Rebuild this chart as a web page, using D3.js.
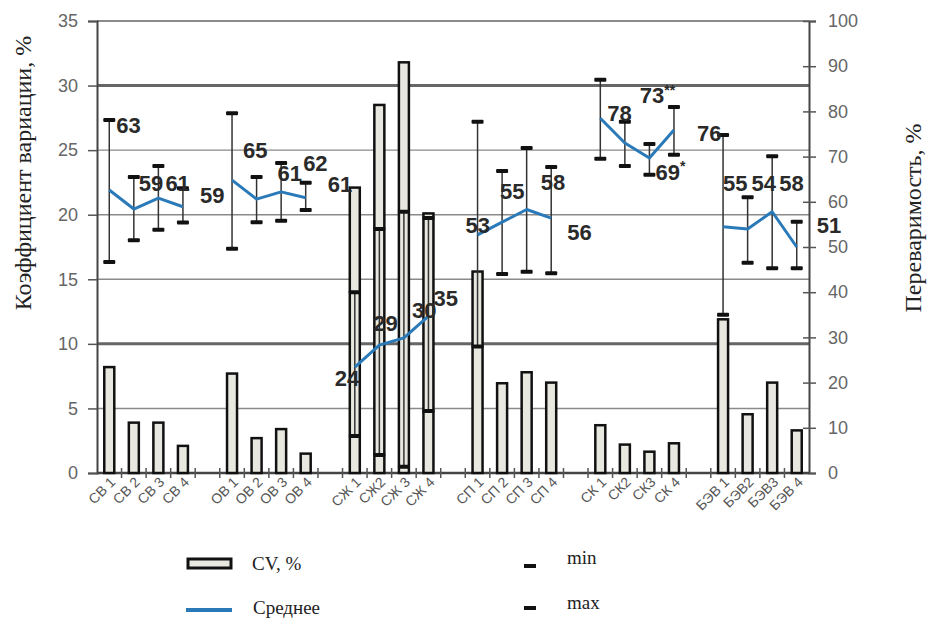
<!DOCTYPE html>
<html>
<head>
<meta charset="utf-8">
<script src="https://cdn.jsdelivr.net/npm/d3@7"></script>
<style>
    body { margin: 0; background: #fff; }
    svg { display: block; }
</style>
</head>
<body>
<svg id="chart"></svg>
<script>
// Group names and x categories (a gap slot between groups)
const groups = ['СВ', 'ОВ', 'СЖ', 'СП', 'СК', 'БЭВ'];
const categories = [
    'СВ 1', 'СВ 2', 'СВ 3', 'СВ 4',
    'ОВ 1', 'ОВ 2', 'ОВ 3', 'ОВ 4',
    'СЖ 1', 'СЖ2', 'СЖ 3', 'СЖ 4',
    'СП 1', 'СП 2', 'СП 3', 'СП 4',
    'СК 1', 'СК2', 'СК3', 'СК 4',
    'БЭВ 1', 'БЭВ2', 'БЭВ3', 'БЭВ 4'
];

// CV, % (left axis)
const cvValues = [8.2, 3.9, 3.9, 2.1, 7.7, 2.7, 3.4, 1.5, 22.1, 28.5, 31.8, 20.1,
    15.6, 6.95, 7.8, 7.0, 3.7, 2.2, 1.65, 2.3, 11.9, 4.55, 7.0, 3.3];

// Переваримость, % (right axis): mean, min, max
const meanValues = [62.6, 58.4, 60.8, 58.9, 64.8, 60.6, 62.2, 60.9, 23.4, 28.3, 29.9, 34.7,
    52.7, 55.5, 58.3, 56.4, 78.5, 73, 69.7, 75.9, 54.5, 54, 57.8, 50];
const minValues = [46.7, 51.5, 53.8, 55.4, 49.6, 55.5, 55.8, 58.2, 8.2, 4, 1.4, 13.7,
    28, 44, 44.5, 44.2, 69.5, 67.9, 66, 70.4, 35, 46.5, 45.3, 45.3];
const maxValues = [78.1, 65.5, 67.9, 63, 79.6, 65.5, 68.6, 64.2, 40, 54, 57.8, 56.4,
    77.7, 66.8, 71.9, 67.7, 87, 77.7, 72.8, 81, 74.8, 61, 70.1, 55.6];
const meanLabels = ['63', '59', '61', '59', '65', '61', '62', '61', '24', '29', '30', '35',
    '53', '55', '58', '56', '78', '73**', '69*', '76', '55', '54', '58', '51'];

const leftTicks = [0, 5, 10, 15, 20, 25, 30, 35];
const rightTicks = [0, 10, 20, 30, 40, 50, 60, 70, 80, 90, 100];

// label placement relative to the mean point (layout only)
const labelNudge = [[7, -65], [5, -26], [7, -15], [17, -12], [11, -30], [21, -26], [22, -29], [22, -14],
    [-20, 11], [-6, -22], [8, -28], [5, -18], [-12, -10], [-2, -31], [14, -27], [16, 14],
    [7, -5], [15, -48], [6, 14], [23, 3], [0, -44], [4, -46], [7, -29], [20, -22]];

const chartW = 928, chartH = 621;
const plot = { left: 97, right: 809, top: 21, bottom: 473 };
const sans = 'Liberation Sans, Arial, sans-serif';
const serif = 'Liberation Serif, Times New Roman, serif';

// slots: 4 categories per group + 1 gap between groups
const slots = [];
groups.forEach((g, gi) => {
    for (let k = 0; k < 4; k++) slots.push(categories[gi * 4 + k]);
    if (gi < groups.length - 1) slots.push('gap' + gi);
});

const data = categories.map((c, i) => ({
    cat: c,
    group: groups[Math.floor(i / 4)],
    cv: cvValues[i],
    mean: meanValues[i],
    min: minValues[i],
    max: maxValues[i],
    label: meanLabels[i],
    nudge: labelNudge[i]
}));

const svg = d3.select('#chart')
    .attr('width', chartW)
    .attr('height', chartH);

const x = d3.scaleBand()
    .domain(slots)
    .range([plot.left, plot.right]);

const yL = d3.scaleLinear().domain([0, 35]).range([plot.bottom, plot.top]);
const yR = d3.scaleLinear().domain([0, 100]).range([plot.bottom, plot.top]);

const cx = d => x(d.cat) + x.bandwidth() / 2;

// Gridlines
svg.append('g')
    .selectAll('line')
    .data(leftTicks.filter(t => t > 0))
    .join('line')
    .attr('x1', plot.left)
    .attr('x2', plot.right)
    .attr('y1', d => yL(d))
    .attr('y2', d => yL(d))
    .attr('stroke', d => (d % 20 === 10) ? '#666' : '#8a8a8a')
    .attr('stroke-width', d => (d % 20 === 10) ? 3 : (d === 35 ? 2 : 1.4));

// Left axis
const yAxisL = svg.append('g')
    .attr('transform', `translate(${plot.left},0)`)
    .call(d3.axisLeft(yL).tickValues(leftTicks).tickSize(9).tickPadding(10));
yAxisL.select('.domain').attr('stroke', '#444').attr('stroke-width', 2);
yAxisL.selectAll('.tick line').attr('stroke', '#555').attr('stroke-width', 1.5);
yAxisL.selectAll('.tick text')
    .attr('font-family', sans)
    .attr('font-size', 18)
    .attr('fill', '#666');

// Right axis
const yAxisR = svg.append('g')
    .attr('transform', `translate(${plot.right},0)`)
    .call(d3.axisRight(yR).tickValues(rightTicks).tickSize(7).tickPadding(12));
yAxisR.select('.domain').attr('stroke', '#444').attr('stroke-width', 2);
yAxisR.selectAll('.tick line').attr('x1', -6).attr('stroke', '#555').attr('stroke-width', 1.5);
yAxisR.selectAll('.tick text')
    .attr('font-family', sans)
    .attr('font-size', 18)
    .attr('fill', '#666');

// Bottom axis line and ticks at slot boundaries
svg.append('line')
    .attr('x1', plot.left)
    .attr('x2', plot.right)
    .attr('y1', plot.bottom)
    .attr('y2', plot.bottom)
    .attr('stroke', '#444')
    .attr('stroke-width', 2.5);

svg.append('g')
    .selectAll('line')
    .data(slots.slice(1))
    .join('line')
    .attr('x1', d => x(d))
    .attr('x2', d => x(d))
    .attr('y1', plot.bottom - 5)
    .attr('y2', plot.bottom + 5)
    .attr('stroke', '#555')
    .attr('stroke-width', 1.5);

// Category labels
svg.append('g')
    .selectAll('text')
    .data(data)
    .join('text')
    .attr('transform', d => `translate(${cx(d) + 7},${plot.bottom + 10}) rotate(-45)`)
    .attr('text-anchor', 'end')
    .attr('font-family', sans)
    .attr('font-size', 14)
    .attr('fill', '#555')
    .text(d => d.cat);

// CV bars
const barW = 10;
svg.append('g')
    .selectAll('rect')
    .data(data)
    .join('rect')
    .attr('x', d => cx(d) - barW / 2)
    .attr('y', d => yL(d.cv))
    .attr('width', barW)
    .attr('height', d => plot.bottom - yL(d.cv))
    .attr('fill', '#e8e8e1')
    .attr('stroke', '#111')
    .attr('stroke-width', 2.5);

// min-max whiskers
svg.append('g')
    .selectAll('line')
    .data(data)
    .join('line')
    .attr('x1', cx)
    .attr('x2', cx)
    .attr('y1', d => yR(d.min))
    .attr('y2', d => yR(d.max))
    .attr('stroke', '#333')
    .attr('stroke-width', 1.5);

const capW = 12, capH = 4;
['min', 'max'].forEach(k => {
    svg.append('g')
        .selectAll('rect')
        .data(data)
        .join('rect')
        .attr('x', d => cx(d) - capW / 2)
        .attr('y', d => yR(d[k]) - capH / 2)
        .attr('width', capW)
        .attr('height', capH)
        .attr('rx', 1)
        .attr('fill', '#111');
});

// Mean line, one piece per group
const line = d3.line()
    .x(cx)
    .y(d => yR(d.mean));

svg.append('g')
    .selectAll('path')
    .data(d3.groups(data, d => d.group).map(g => g[1]))
    .join('path')
    .attr('d', line)
    .attr('fill', 'none')
    .attr('stroke', '#2a7ab9')
    .attr('stroke-width', 3)
    .attr('stroke-linejoin', 'round');

// Mean labels
const labels = svg.append('g')
    .selectAll('text')
    .data(data)
    .join('text')
    .attr('x', d => cx(d) + d.nudge[0])
    .attr('y', d => yR(d.mean) + d.nudge[1])
    .attr('dy', '0.36em')
    .attr('font-family', sans)
    .attr('font-size', 22)
    .attr('font-weight', 'bold')
    .attr('fill', '#2a2a2a');

labels.append('tspan').text(d => d.label.replace(/\*/g, ''));
labels.append('tspan')
    .attr('font-size', 14)
    .attr('dy', '-0.6em')
    .text(d => d.label.replace(/[^*]/g, ''));

// Axis titles
svg.append('text')
    .attr('transform', 'translate(31,173) rotate(-90)')
    .attr('text-anchor', 'middle')
    .attr('font-family', serif)
    .attr('font-size', 24)
    .attr('fill', '#222')
    .text('Коэффициент вариации, %');

svg.append('text')
    .attr('transform', 'translate(921,218) rotate(-90)')
    .attr('text-anchor', 'middle')
    .attr('font-family', serif)
    .attr('font-size', 24)
    .attr('fill', '#222')
    .text('Переваримость, %');

// Legend
const legend = svg.append('g').attr('font-family', serif).attr('font-size', 19).attr('fill', '#222');

legend.append('rect')
    .attr('x', 188).attr('y', 559)
    .attr('width', 43).attr('height', 9)
    .attr('fill', '#e8e8e1')
    .attr('stroke', '#111')
    .attr('stroke-width', 3);
legend.append('text').attr('x', 252).attr('y', 570).text('CV, %');

legend.append('line')
    .attr('x1', 186).attr('x2', 232)
    .attr('y1', 610).attr('y2', 610)
    .attr('stroke', '#2a7ab9')
    .attr('stroke-width', 4);
legend.append('text').attr('x', 253).attr('y', 614).text('Среднее');

legend.append('rect')
    .attr('x', 524).attr('y', 564).attr('width', 12).attr('height', 4).attr('fill', '#111');
legend.append('text').attr('x', 567).attr('y', 564).text('min');

legend.append('rect')
    .attr('x', 524).attr('y', 606).attr('width', 12).attr('height', 4).attr('fill', '#111');
legend.append('text').attr('x', 567).attr('y', 609).text('max');
</script>
</body>
</html>
